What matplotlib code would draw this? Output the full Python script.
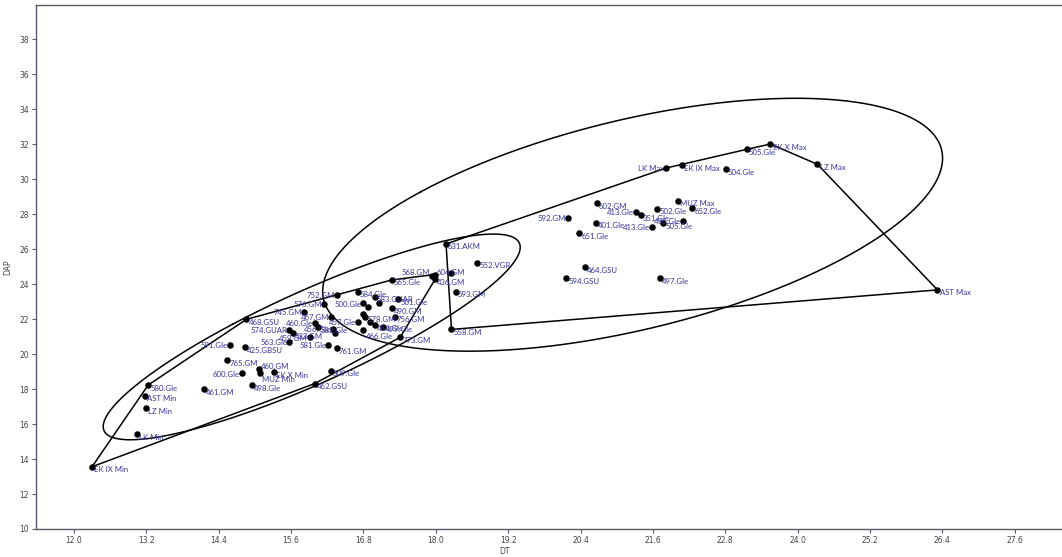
import numpy as np
import matplotlib
matplotlib.use("Agg")
import matplotlib.pyplot as plt

# ---------------- data ----------------
# group 1 (Min / small-size group)
g1_labels = ["EK IX Min", "LK Min", "LZ Min", "AST Min", "580.Gle", "461.GM", "591.Gle",
             "468.GSU", "425.GBSU", "765.GM", "600.Gle", "498.Gle", "460.GM", "MUZ Min",
             "EK X Min", "462.GSU", "509.Gle", "563.Gle", "574.GUAR", "433.GM", "459.GM",
             "460.Gle", "582.Gle", "745.GM", "467.GM", "576.GM", "752.GM", "456.Gle", "",
             "581.Gle", "761.GM", "584.Gle", "583.GUAR", "500.Gle", "", "501.Gle",
             "457.Gle", "", "490.GM", "578.GM", "", "", "756.GM", "466.Gle", "454.Gle",
             "499.Gle", "773.GM", "565.Gle", "568.GM", "604.GM", "436.GM"]
g1_dt = [12.30, 13.05, 13.19, 13.18, 13.23, 14.16, 14.58,
         14.86, 14.84, 14.54, 14.79, 14.95, 15.07, 15.08,
         15.31, 15.99, 16.26, 15.57, 15.57, 15.63, 15.91,
         16.00, 16.05, 15.81, 16.27, 16.15, 16.36, 16.30, 16.33,
         16.22, 16.36, 16.71, 16.99, 16.80, 17.05, 17.38,
         16.71, 16.88, 17.27, 16.83, 16.80, 16.91, 17.32, 16.80, 16.99,
         17.13, 17.41, 17.27, 17.93, 17.98, 17.99]
g1_dap = [13.56, 15.41, 16.90, 17.62, 18.23, 18.00, 20.52,
          21.99, 20.38, 19.66, 18.90, 18.23, 19.15, 18.94,
          18.96, 18.31, 19.05, 20.71, 21.38, 21.19, 20.96,
          21.80, 21.53, 22.42, 22.14, 22.86, 23.38, 21.42, 21.19,
          20.52, 20.33, 23.57, 23.28, 22.90, 22.90, 23.13,
          21.86, 22.71, 22.62, 22.14, 22.29, 21.85, 22.14, 21.38, 21.66,
          21.57, 20.96, 24.24, 24.45, 24.55, 24.28]
g1_side = ["r", "r", "r", "r", "r", "r", "l",
           "r", "r", "r", "l", "r", "ru", "rd",
           "r", "r", "r", "l", "l", "r", "l",
           "l", "r", "l", "l", "l", "l", "l", "r",
           "l", "r", "r", "r", "l", "r", "r",
           "l", "r", "r", "r", "r", "r", "r", "rd", "r",
           "r", "r", "r", "lu", "ru", "r"]

# group 2 (Max / large-size group)
g2_labels = ["631.AKM", "", "593.GM", "558.GM", "552.VGR", "594.GSU", "464.GSU",
             "651.Gle", "592.GM", "602.GM", "401.Gle", "413.Gle", "351.Gle", "502.Gle",
             "413.Gle", "505.Gle", "496.Gle", "MUZ Max", "652.Gle", "LK Max", "EK IX Max",
             "504.Gle", "505.Gle", "EK X Max", "LZ Max", "AST Max", "497.Gle"]
g2_dt = [18.17, 18.25, 18.33, 18.26, 18.69, 20.16, 20.47,
         20.38, 20.19, 20.67, 20.66, 21.32, 21.40, 21.67,
         21.59, 21.77, 22.10, 22.01, 22.25, 21.82, 22.09,
         22.81, 23.16, 23.55, 24.33, 26.32, 21.72]
g2_dap = [26.30, 24.62, 23.57, 21.41, 25.23, 24.33, 24.98,
          26.91, 27.80, 28.62, 27.51, 28.12, 27.95, 28.31,
          27.25, 27.48, 27.63, 28.77, 28.34, 30.64, 30.80,
          30.57, 31.71, 32.01, 30.85, 23.67, 24.33]
g2_side = ["r", "r", "r", "r", "r", "r", "r",
           "r", "l", "r", "r", "l", "r", "r",
           "l", "r", "l", "r", "r", "l", "r",
           "r", "r", "r", "r", "r", "r"]

x_ticks = [12.0, 13.2, 14.4, 15.6, 16.8, 18.0, 19.2, 20.4, 21.6, 22.8, 24.0, 25.2, 26.4, 27.6]
y_ticks = list(range(10, 40, 2))

# ---------------- helpers ----------------
def convex_hull(xs, ys):
    pts = sorted(set(zip(xs, ys)))
    def cross(o, a, b):
        return (a[0]-o[0])*(b[1]-o[1]) - (a[1]-o[1])*(b[0]-o[0])
    lower, upper = [], []
    for p in pts:
        while len(lower) >= 2 and cross(lower[-2], lower[-1], p) <= 0:
            lower.pop()
        lower.append(p)
    for p in reversed(pts):
        while len(upper) >= 2 and cross(upper[-2], upper[-1], p) <= 0:
            upper.pop()
        upper.append(p)
    hull = lower[:-1] + upper[:-1]
    hull.append(hull[0])
    return np.array(hull)

def conf_ellipse(xs, ys, p=0.95, npts=400):
    xs, ys = np.asarray(xs), np.asarray(ys)
    n = len(xs)
    m = n - 2
    f = (m / 2.0) * ((1 - p) ** (-2.0 / m) - 1)      # F(p; 2, n-2)
    c = 2.0 * (n - 1) / (n - 2) * f
    cov = np.cov(xs, ys)
    vals, vecs = np.linalg.eigh(cov)
    t = np.linspace(0, 2*np.pi, npts)
    circ = np.vstack([np.cos(t), np.sin(t)])
    pts = vecs @ (np.sqrt(c*vals)[:, None] * circ)
    return xs.mean() + pts[0], ys.mean() + pts[1]

# ---------------- figure ----------------
W, H = 1062, 557
fig = plt.figure(figsize=(W/100, H/100), dpi=100)
ax = fig.add_axes([36/W, (H-529)/H, (W-36)/W, 524/H])
ax.set_xlim(11.37, 28.385)
ax.set_ylim(10, 39.96)

axis_col = "#5a5a6a"
lab_col = "#34349c"
for s in ["left", "bottom", "top"]:
    ax.spines[s].set_color(axis_col)
    ax.spines[s].set_linewidth(1.0)
ax.spines["right"].set_visible(False)

ax.set_xticks(x_ticks)
ax.set_xticklabels([f"{v:.1f}" for v in x_ticks])
ax.set_yticks(y_ticks)
ax.tick_params(axis="both", length=3, width=0.8, color=axis_col,
               labelsize=5.5, labelcolor="#444444", pad=2)
ax.set_xlabel("DT", fontsize=5.5, color="#444444")
ax.set_ylabel("DAP", fontsize=5.5, color="#444444")
ax.xaxis.set_label_coords((505-36)/(W-36), -0.035)
ax.yaxis.set_label_coords((12-36)/(W-36), 0.5)

for xs, ys in [(g1_dt, g1_dap), (g2_dt, g2_dap)]:
    hull = convex_hull(xs, ys)
    ax.plot(hull[:, 0], hull[:, 1], color="black", lw=1.1, zorder=2)
    ex, ey = conf_ellipse(xs, ys)
    ax.plot(ex, ey, color="black", lw=1.1, zorder=2)
    ax.scatter(xs, ys, s=22, color="black", zorder=3, linewidths=0)

offsets = {"r": (1.5, -2.2, "left"), "l": (-1.5, -0.5, "right"),
           "ru": (1.5, 1.5, "left"), "rd": (1.5, -5.0, "left"),
           "lu": (-1.5, 2.5, "right")}
for labels, xs, ys, sides in [(g1_labels, g1_dt, g1_dap, g1_side),
                              (g2_labels, g2_dt, g2_dap, g2_side)]:
    for lab, x, y, sd in zip(labels, xs, ys, sides):
        if not lab:
            continue
        dx, dy, ha = offsets[sd]
        ax.annotate(lab, (x, y), xytext=(dx, dy), textcoords="offset points",
                    ha=ha, va="center", fontsize=5.6, color=lab_col,
                    family="Lato", zorder=4)

fig.savefig("out.png", dpi=100)
